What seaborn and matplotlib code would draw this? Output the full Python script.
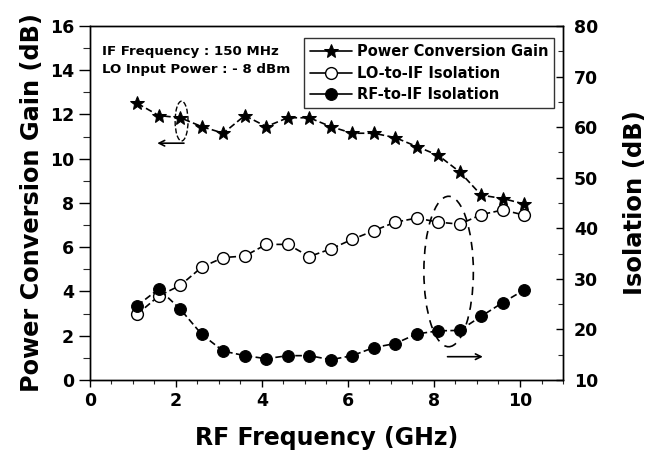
import numpy as np
import pandas as pd
import matplotlib
matplotlib.use('Agg')
import matplotlib.pyplot as plt
import seaborn as sns
from matplotlib.patches import Ellipse
from matplotlib.ticker import MultipleLocator

# data
freq = [1.1, 1.6, 2.1, 2.6, 3.1, 3.6, 4.1, 4.6, 5.1, 5.6,
        6.1, 6.6, 7.1, 7.6, 8.1, 8.6, 9.1, 9.6, 10.1]
gain = [12.5, 11.95, 11.85, 11.45, 11.15, 11.95, 11.45, 11.85, 11.85, 11.45,
        11.15, 11.15, 10.95, 10.55, 10.15, 9.4, 8.35, 8.2, 7.95]
lo_iso = [23.0, 26.6, 28.7, 32.3, 34.2, 34.5, 36.8, 36.8, 34.4, 35.9,
          37.8, 39.5, 41.2, 42.0, 41.2, 40.8, 42.7, 43.6, 42.6]
rf_iso = [24.7, 28.0, 24.0, 19.0, 15.7, 14.8, 14.2, 14.8, 14.8, 14.0,
          14.8, 16.4, 17.2, 19.1, 19.7, 19.8, 22.6, 25.3, 27.8]

sns.set_style('ticks')
plt.rcParams['font.family'] = ['DejaVu Sans']
plt.rcParams['font.weight'] = 'bold'
plt.rcParams['text.color'] = 'black'
plt.rcParams['axes.labelcolor'] = 'black'

df = pd.DataFrame({'freq': freq, 'gain': gain, 'lo': lo_iso, 'rf': rf_iso})

fig = plt.figure(figsize=(6.52, 4.55), dpi=100)
ax1 = fig.add_axes([0.138, 0.165, 0.7255, 0.778])
ax2 = ax1.twinx()

dash = (0, (4, 2))
sns.lineplot(data=df, x='freq', y='gain', ax=ax1, color='black', lw=1.2,
             ls=dash, marker='*', markersize=10.5, mec='black', mfc='black',
             label='Power Conversion Gain', legend=False)
sns.lineplot(data=df, x='freq', y='lo', ax=ax2, color='black', lw=1.2,
             ls=dash, marker='o', markersize=8.5, mec='black', mfc='white',
             mew=1.0, label='LO-to-IF Isolation', legend=False)
sns.lineplot(data=df, x='freq', y='rf', ax=ax2, color='black', lw=1.2,
             ls=dash, marker='o', markersize=8.5, mec='black', mfc='black',
             label='RF-to-IF Isolation', legend=False)

ax1.set_xlim(0, 11)
ax1.set_ylim(0, 16)
ax2.set_ylim(10, 80)
ax1.xaxis.set_major_locator(MultipleLocator(2))
ax1.xaxis.set_minor_locator(MultipleLocator(0.5))
ax1.yaxis.set_major_locator(MultipleLocator(2))
ax1.yaxis.set_minor_locator(MultipleLocator(1))
ax2.yaxis.set_major_locator(MultipleLocator(10))
ax2.yaxis.set_minor_locator(MultipleLocator(5))

ax1.set_xlabel('RF Frequency (GHz)', fontsize=17, fontweight='bold', labelpad=12)
ax1.set_ylabel('Power Conversion Gain (dB)', fontsize=17.3, fontweight='bold', labelpad=4)
ax2.set_ylabel('Isolation (dB)', fontsize=17.5, fontweight='bold', labelpad=18)

for ax in (ax1, ax2):
    for s in ax.spines.values():
        s.set_visible(True)
        s.set_linewidth(1.0)
        s.set_color('black')
    ax.tick_params(labelsize=12.5, width=1.0, colors='black')
    ax.tick_params(which='minor', width=0.8)
    for lab in ax.get_xticklabels() + ax.get_yticklabels():
        lab.set_fontweight('bold')
ax1.tick_params(axis='y', which='major', direction='out', length=8)
ax1.tick_params(axis='y', which='minor', direction='out', length=5)
ax1.tick_params(axis='x', which='major', direction='out', length=5)
ax1.tick_params(axis='x', which='minor', direction='out', length=3)
ax2.tick_params(axis='y', which='major', direction='in', length=5, pad=8)
ax2.tick_params(axis='y', which='minor', direction='in', length=3.5)

# dashed annotation ellipses and arrows
ax1.add_patch(Ellipse((2.13, 11.7), 0.3, 1.8, fill=False, ls='--', lw=1.0, color='black'))
ax1.annotate('', xy=(1.5, 10.7), xytext=(2.25, 10.7),
             arrowprops=dict(arrowstyle='->', color='black', lw=1.2))
ax1.add_patch(Ellipse((8.34, 4.9), 1.15, 6.8, fill=False, ls=(0, (5, 4)), lw=1.2, color='black'))
ax1.annotate('', xy=(9.2, 1.05), xytext=(8.25, 1.05),
             arrowprops=dict(arrowstyle='->', color='black', lw=1.2))

ax1.text(0.025, 0.945, 'IF Frequency : 150 MHz\nLO Input Power : - 8 dBm',
         transform=ax1.transAxes, fontsize=9.6, fontweight='bold',
         va='top', ha='left', linespacing=1.5)

h1, l1 = ax1.get_legend_handles_labels()
h2, l2 = ax2.get_legend_handles_labels()
leg = ax2.legend(h1 + h2, l1 + l2, loc='upper right', bbox_to_anchor=(0.981, 0.965),
                 frameon=True, fancybox=False, edgecolor='black',
                 prop={'size': 10.5, 'weight': 'bold'}, handlelength=2.9,
                 borderpad=0.4, labelspacing=0.45, handletextpad=0.3,
                 borderaxespad=0.0)
leg.get_frame().set_linewidth(1.0)
for line in leg.get_lines():
    line.set_linestyle('-')

fig.savefig('out.png', dpi=100)
